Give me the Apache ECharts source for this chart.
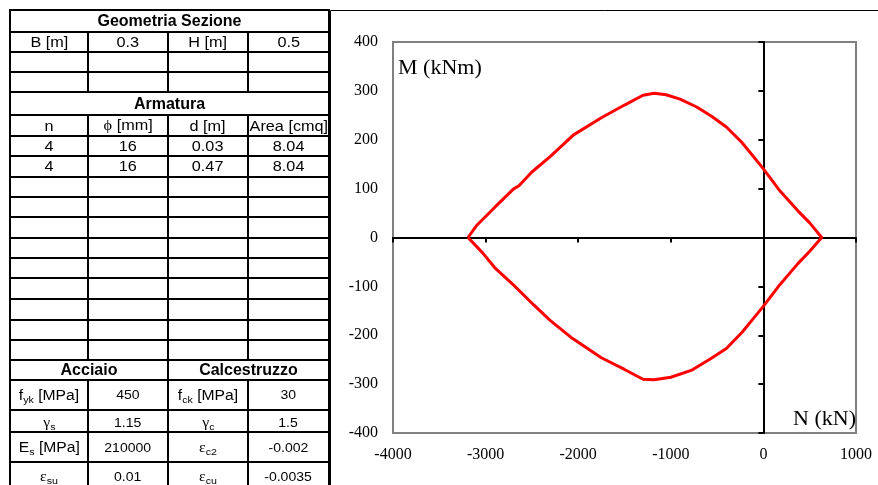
<!DOCTYPE html>
<html>
<head>
<meta charset="utf-8">
<title>Dominio di interazione M-N</title>
<script src="https://cdn.jsdelivr.net/npm/echarts/dist/echarts.min.js"></script>
<style>
  html, body { margin: 0; padding: 0; background: #fff; }
  #chart { position: absolute; left: 0; top: 0; width: 878px; height: 485px; }
  #sheet { position: absolute; left: 0; top: 0; width: 340px; height: 485px; overflow: hidden; }
  .cell {
    position: absolute; box-sizing: border-box; border: 2px solid #000;
    display: flex; align-items: center; justify-content: center;
    font-family: "Liberation Sans", Arial, sans-serif; font-size: 14px; color: #000;
    white-space: nowrap; overflow: hidden;
  }
  .cell span.t { display: inline-block; transform: scaleX(1.16); }
  .cell.bold { font-weight: bold; font-size: 16px; }
  .cell.bold span.t { transform: none; }
  .cell.label { font-size: 14px; }
  .cell.label span.t { transform: scaleX(1.12); }
  .cell.value { font-size: 13px; }
  .cell.value span.t { transform: scaleX(1.08); }
  .cell.low { padding-top: 4px; }
  .cell.low1 { padding-top: 1px; }
  .cell sub { font-size: 0.68em; vertical-align: -0.3em; line-height: 0; }
  .gr { font-family: "Liberation Serif", "DejaVu Serif", serif; }
</style>
</head>
<body>
<div id="chart"></div>
<div id="sheet"></div>
<script>
// ---- section data (spreadsheet) ----
const sectionTitle = 'Geometria Sezione';
const geometryRow = ['B [m]', '0.3', 'H [m]', '0.5'];
const rebarTitle = 'Armatura';
const rebarHeader = ['n', '<span class="gr">&#981;</span> [mm]', 'd [m]', 'Area [cmq]'];
const rebarRows = [
  ['4', '16', '0.03', '8.04'],
  ['4', '16', '0.47', '8.04']
];
const materialTitles = ['Acciaio', 'Calcestruzzo'];
const materialRows = [
  ['f<sub>yk</sub> [MPa]', '450', 'f<sub>ck</sub> [MPa]', '30'],
  ['<span class="gr">&gamma;</span><sub>s</sub>', '1.15', '<span class="gr">&gamma;</span><sub>c</sub>', '1.5'],
  ['E<sub>s</sub> [MPa]', '210000', '<span class="gr">&epsilon;</span><sub>c2</sub>', '-0.002'],
  ['<span class="gr">&epsilon;</span><sub>su</sub>', '0.01', '<span class="gr">&epsilon;</span><sub>cu</sub>', '-0.0035']
];
// vertical offset class for each material row
const materialRowShift = ['', 'low', '', 'low1'];

// ---- interaction domain (closed loop, N in kN, M in kNm) ----
const axialForce = [
  -3190, -3100, -2900, -2700, -2640, -2500, -2300, -2050, -1750, -1500, -1300, -1180,
  -1050, -900, -720, -560, -400, -230, -10, 180, 370, 500, 630,
  500, 370, 180, -10, -230, -400, -570, -780, -1000, -1180, -1300, -1500, -1750,
  -2080, -2300, -2480, -2700, -2900, -3030, -3190
];
const bendingMoment = [
  0, 24, 62, 99, 106, 134, 166, 210, 245, 271, 291, 295,
  292, 283, 267, 248, 226, 194, 143, 95, 55, 30, 0,
  -28, -54, -96, -143, -194, -227, -248, -272, -286, -291, -290, -270, -246,
  -204, -170, -138, -97, -62, -32, 0
];
const xTicks = { min: -4000, max: 1000, step: 1000 };
const yTicks = { min: -400, max: 400, step: 100 };

// ---- spreadsheet layout ----
const colX = [10, 88, 168, 248, 329];
const rowY = [10, 31.5, 51.5, 71.5, 92, 115, 136, 156, 176.5, 196.5, 217, 237.5, 257.5,
              278, 299, 319.5, 339.5, 360, 380, 409.5, 432, 462, 490];

const cells = [];
function addCell(r, c0, c1, html, cls) { cells.push({ r, c0, c1, html, cls: cls || '' }); }
addCell(0, 0, 4, sectionTitle, 'bold');
geometryRow.forEach((t, i) => addCell(1, i, i + 1, t));
for (let r = 2; r <= 3; r++) for (let c = 0; c < 4; c++) addCell(r, c, c + 1, '');
addCell(4, 0, 4, rebarTitle, 'bold');
rebarHeader.forEach((t, i) => addCell(5, i, i + 1, t));
rebarRows.forEach((row, k) => row.forEach((t, i) => addCell(6 + k, i, i + 1, t)));
for (let r = 8; r <= 16; r++) for (let c = 0; c < 4; c++) addCell(r, c, c + 1, '');
addCell(17, 0, 2, materialTitles[0], 'bold');
addCell(17, 2, 4, materialTitles[1], 'bold');
materialRows.forEach((row, k) => row.forEach((t, i) =>
  addCell(18 + k, i, i + 1, t, (i % 2 === 0 ? 'label' : 'value') + ' ' + materialRowShift[k])));

const sheet = document.getElementById('sheet');
cells.forEach(cell => {
  const d = document.createElement('div');
  d.className = 'cell ' + cell.cls;
  const x0 = colX[cell.c0], x1 = colX[cell.c1];
  const y0 = rowY[cell.r], y1 = rowY[cell.r + 1];
  d.style.left = (x0 - 1) + 'px';
  d.style.top = (y0 - 1) + 'px';
  d.style.width = (x1 - x0 + 2) + 'px';
  d.style.height = (y1 - y0 + 2) + 'px';
  if (cell.html) d.innerHTML = '<span class="t">' + cell.html + '</span>';
  sheet.appendChild(d);
});

// ---- chart ----
const chart = echarts.init(document.getElementById('chart'), null, { renderer: 'canvas' });
const loop = axialForce.map((n, i) => [n, bendingMoment[i]]);
const serif = '"Liberation Serif", "Times New Roman", serif';
const plain = v => String(v);

const xBase = { type: 'value', min: xTicks.min, max: xTicks.max, interval: xTicks.step, splitLine: { show: false } };
const yBase = { type: 'value', min: yTicks.min, max: yTicks.max, interval: yTicks.step, splitLine: { show: false } };

chart.setOption({
  animation: false,
  backgroundColor: 'transparent',
  grid: {
    left: 393, right: 22, top: 42, bottom: 52,
    show: true, borderColor: '#808080', borderWidth: 2, backgroundColor: 'transparent'
  },
  xAxis: [
    Object.assign({}, xBase, {
      position: 'bottom',
      axisLine: { show: false }, axisTick: { show: false },
      axisLabel: { margin: 14, color: '#000', fontFamily: serif, fontSize: 16, formatter: plain }
    }),
    Object.assign({}, xBase, {
      position: 'bottom',
      axisLine: { show: true, onZero: true, onZeroAxisIndex: 1, lineStyle: { color: '#000', width: 2 } },
      axisTick: { show: true, inside: false, length: 5, lineStyle: { color: '#000', width: 2 } },
      axisLabel: { show: false }
    })
  ],
  yAxis: [
    Object.assign({}, yBase, {
      position: 'left',
      axisLine: { show: false }, axisTick: { show: false },
      axisLabel: { margin: 15, color: '#000', fontFamily: serif, fontSize: 16, formatter: plain }
    }),
    Object.assign({}, yBase, {
      position: 'left',
      axisLine: { show: true, onZero: true, onZeroAxisIndex: 1, lineStyle: { color: '#000', width: 2 } },
      axisTick: { show: true, inside: false, length: 5, lineStyle: { color: '#000', width: 2 } },
      axisLabel: { show: false }
    })
  ],
  series: [{
    type: 'line',
    xAxisIndex: 1, yAxisIndex: 1,
    data: loop,
    showSymbol: false,
    smooth: false,
    lineStyle: { color: '#FF0000', width: 3 },
    z: 5
  }],
  graphic: [
    {
      type: 'rect', silent: true, z: 10,
      shape: { x: 330.5, y: 10.5, width: 700, height: 700 },
      style: { fill: 'none', stroke: '#000', lineWidth: 1 }
    },
    {
      type: 'text', silent: true, z: 10, x: 398, y: 68,
      style: { text: 'M (kNm)', fill: '#000', font: '22px ' + serif, textAlign: 'left', textVerticalAlign: 'middle' }
    },
    {
      type: 'text', silent: true, z: 10, x: 856, y: 419,
      style: { text: 'N (kN)', fill: '#000', font: '22px ' + serif, textAlign: 'right', textVerticalAlign: 'middle' }
    }
  ]
});
</script>
</body>
</html>
